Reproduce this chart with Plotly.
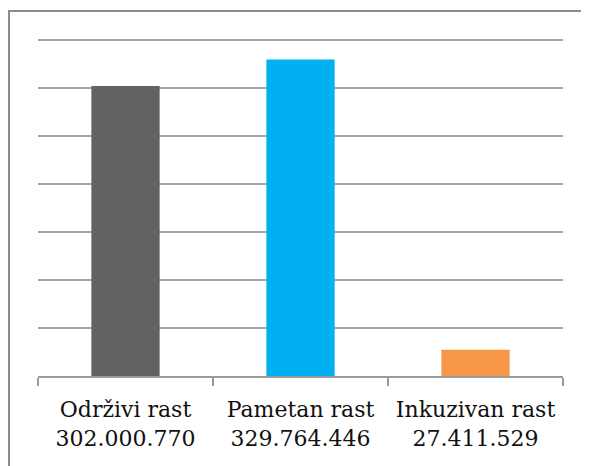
import plotly.graph_objects as go

categories = ["Održivi rast<br>302.000.770", "Pametan rast<br>329.764.446", "Inkuzivan rast<br>27.411.529"]
values = [302000770, 329764446, 27411529]
colors = ["#626262", "#00B0F0", "#F79646"]

fig = go.Figure(go.Bar(x=categories, y=values, marker=dict(color=colors, line=dict(width=0)), width=0.39))

# page body has an 8px margin: work in reference pixels, shift by 8
OFF = 8
W, H = 589 - OFF, 466 - OFF
plot_left, plot_right = 38, 563
plot_top, plot_bottom = 38, 376  # top grid line at 40
L, R = plot_left - OFF, (W + OFF) - plot_right
T, B = plot_top - OFF, (H + OFF) - plot_bottom
pw, ph = plot_right - plot_left, plot_bottom - plot_top
ymax = 350e6 * ph / (plot_bottom - 40)

def px_x(p):
    return (p - plot_left) / pw

def px_y(p):
    return (plot_bottom - p) / ph

serif = "'DejaVu Serif', 'Liberation Serif', serif"

fig.update_layout(
    width=W, height=H,
    margin=dict(l=L, r=R, t=T, b=B, autoexpand=False),
    paper_bgcolor="white", plot_bgcolor="white",
    showlegend=False,
    font=dict(family=serif, size=22, color="#111111"),
    xaxis=dict(
        type="category", showgrid=False, showline=True, linecolor="#9a9a9a", linewidth=1.5,
        ticks="outside", tickson="boundaries", ticklen=8, tickcolor="#9a9a9a", tickwidth=1.5,
        tickfont=dict(family=serif, size=22, color="#111111"), automargin=False,
        ticklabelstandoff=13,
    ),
    yaxis=dict(
        range=[0, ymax], tickvals=[50e6 * i for i in range(1, 8)], showgrid=True,
        gridcolor="#a6a6a6", gridwidth=1.5, automargin=False,
        showticklabels=False, zeroline=False, showline=False, fixedrange=True,
    ),
    shapes=[dict(
        type="rect", xref="paper", yref="paper",
        x0=px_x(9), x1=px_x(620), y0=px_y(520), y1=px_y(11),
        line=dict(color="#8c8c8c", width=2), fillcolor="rgba(0,0,0,0)", layer="below",
    )],
)

fig.write_html("out.html")
